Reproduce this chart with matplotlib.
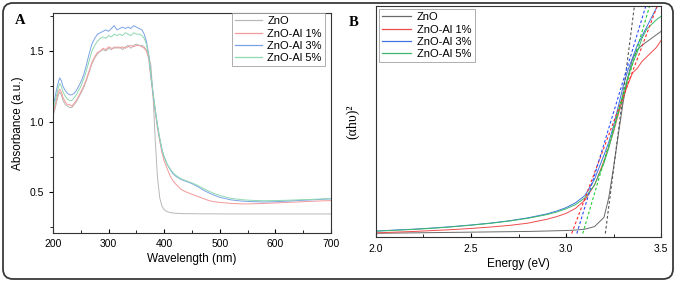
import numpy as np
import matplotlib
matplotlib.use("Agg")
import matplotlib.pyplot as plt
from matplotlib.patches import FancyBboxPatch
from matplotlib.ticker import MultipleLocator

plt.rcParams["font.family"] = ["Liberation Sans", "DejaVu Sans"]

# ------------------------------------------------
# Panel A: UV-vis absorbance
# ------------------------------------------------

wavelength = [200, 203, 206, 209, 212, 215, 218, 222, 226, 230, 234, 238, 242, 246,
              250, 255, 260, 265, 270, 275, 280, 285, 290, 295, 300, 305, 310, 315,
              320, 325, 330, 335, 340, 345, 350, 355, 360, 364, 368, 372, 376, 380,
              384, 388, 392, 396, 400, 405, 410, 415, 420, 430, 440, 450, 460, 470,
              480, 490, 500, 520, 540, 560, 580, 600, 620, 640, 660, 680, 700]

abs_zno = [1.04, 1.08, 1.13, 1.18, 1.21, 1.19, 1.15, 1.12, 1.11, 1.10, 1.10, 1.12, 1.14, 1.17,
           1.20, 1.24, 1.29, 1.35, 1.41, 1.45, 1.48, 1.50, 1.51, 1.50, 1.52, 1.51, 1.53, 1.52,
           1.53, 1.51, 1.53, 1.54, 1.52, 1.54, 1.55, 1.54, 1.54, 1.53, 1.51, 1.47, 1.40, 1.18,
           0.86, 0.60, 0.46, 0.40, 0.375, 0.362, 0.356, 0.352, 0.350, 0.348, 0.347, 0.347, 0.346, 0.346,
           0.346, 0.346, 0.345, 0.345, 0.345, 0.345, 0.345, 0.345, 0.345, 0.345, 0.345, 0.345, 0.345]

abs_al1 = [1.06, 1.10, 1.15, 1.20, 1.23, 1.21, 1.17, 1.14, 1.12, 1.12, 1.11, 1.13, 1.15, 1.18,
           1.21, 1.25, 1.30, 1.36, 1.42, 1.46, 1.49, 1.50, 1.52, 1.51, 1.53, 1.52, 1.52, 1.53,
           1.52, 1.53, 1.52, 1.53, 1.54, 1.53, 1.54, 1.54, 1.53, 1.52, 1.50, 1.45, 1.31, 1.18,
           1.06, 0.95, 0.86, 0.78, 0.72, 0.67, 0.62, 0.585, 0.56, 0.52, 0.50, 0.485, 0.47, 0.455,
           0.44, 0.432, 0.427, 0.42, 0.416, 0.417, 0.42, 0.423, 0.427, 0.43, 0.434, 0.437, 0.44]

abs_al3 = [1.11, 1.16, 1.22, 1.27, 1.31, 1.29, 1.25, 1.22, 1.20, 1.19, 1.19, 1.20, 1.22, 1.25,
           1.28, 1.33, 1.40, 1.48, 1.55, 1.59, 1.62, 1.63, 1.64, 1.65, 1.64, 1.66, 1.68, 1.65,
           1.66, 1.67, 1.66, 1.67, 1.66, 1.68, 1.67, 1.66, 1.65, 1.62, 1.57, 1.48, 1.33, 1.20,
           1.08, 0.97, 0.88, 0.80, 0.75, 0.70, 0.665, 0.635, 0.615, 0.59, 0.575, 0.56, 0.54, 0.515,
           0.495, 0.478, 0.463, 0.445, 0.436, 0.432, 0.43, 0.432, 0.436, 0.44, 0.444, 0.448, 0.452]

abs_al5 = [1.08, 1.13, 1.18, 1.23, 1.27, 1.25, 1.21, 1.18, 1.16, 1.15, 1.15, 1.17, 1.19, 1.22,
           1.25, 1.30, 1.36, 1.43, 1.50, 1.54, 1.57, 1.59, 1.60, 1.59, 1.61, 1.60, 1.62, 1.61,
           1.62, 1.61, 1.63, 1.62, 1.61, 1.63, 1.62, 1.62, 1.61, 1.59, 1.55, 1.47, 1.33, 1.20,
           1.08, 0.97, 0.88, 0.80, 0.75, 0.70, 0.668, 0.642, 0.622, 0.595, 0.58, 0.565, 0.548, 0.527,
           0.507, 0.49, 0.476, 0.456, 0.446, 0.441, 0.439, 0.44, 0.442, 0.445, 0.448, 0.451, 0.455]

# ------------------------------------------------
# Panel B: Tauc plot
# ------------------------------------------------

energy = [2.0, 2.1, 2.2, 2.3, 2.4, 2.5, 2.6, 2.7, 2.8, 2.9, 2.95, 3.0, 3.05, 3.1,
          3.15, 3.2, 3.225, 3.25, 3.275, 3.3, 3.325, 3.35, 3.375, 3.4, 3.425, 3.45, 3.475, 3.5]

tauc_zno = [0.016, 0.017, 0.018, 0.019, 0.020, 0.021, 0.022, 0.023, 0.024, 0.026, 0.027, 0.028, 0.030, 0.034,
            0.045, 0.085, 0.17, 0.30, 0.44, 0.58, 0.69, 0.77, 0.81, 0.83, 0.845, 0.86, 0.875, 0.89]
tauc_al1 = [0.018, 0.021, 0.024, 0.028, 0.032, 0.037, 0.043, 0.050, 0.060, 0.077, 0.088, 0.102, 0.124, 0.16,
            0.225, 0.33, 0.39, 0.455, 0.53, 0.60, 0.66, 0.71, 0.73, 0.76, 0.78, 0.80, 0.82, 0.85]
tauc_al3 = [0.026, 0.030, 0.034, 0.039, 0.045, 0.052, 0.060, 0.070, 0.083, 0.100, 0.112, 0.127, 0.148, 0.18,
            0.25, 0.355, 0.41, 0.48, 0.565, 0.65, 0.72, 0.775, 0.83, 0.87, 0.91, 0.95, 0.99, 1.03]
tauc_al5 = [0.025, 0.029, 0.033, 0.038, 0.044, 0.051, 0.059, 0.069, 0.081, 0.097, 0.108, 0.122, 0.140, 0.17,
            0.225, 0.32, 0.385, 0.46, 0.545, 0.62, 0.69, 0.75, 0.80, 0.86, 0.90, 0.92, 0.94, 0.955]

# band-gap extrapolation lines: energy at bottom and at top of the plot
tangent_lo = [3.207, 3.03, 3.057, 3.088]
tangent_hi = [3.36, 3.48, 3.42, 3.44]
tangent_y = [0.015, 1.0]

labels = ["ZnO", "ZnO-Al 1%", "ZnO-Al 3%", "ZnO-Al 5%"]
colors_a = ["#b8b8b8", "#f29a9a", "#7aa3e6", "#8fd8b0"]
colors_b = ["#6a6a6a", "#ee4b4b", "#3f74e0", "#3cb86a"]
colors_dash = ["#555555", "#ff2a2a", "#2a4cff", "#22cc33"]

fig = plt.figure(figsize=(6.76, 2.82), dpi=100)

border = FancyBboxPatch((0.03, 0.03), 6.70, 2.76, boxstyle="round,pad=0,rounding_size=0.1",
                        transform=fig.dpi_scale_trans, fill=False, edgecolor="#3a3a3a",
                        linewidth=1.3)
fig.patches.append(border)

# ---- panel A
ax1 = fig.add_axes([53 / 676, 1 - 233 / 282, 278 / 676, 220 / 282])
for series, lab, col in zip([abs_zno, abs_al1, abs_al3, abs_al5], labels, colors_a):
    ax1.plot(wavelength, series, color=col, lw=0.7, label=lab)

ax1.set_xlim(200, 700)
ax1.set_ylim(0.21, 1.77)
ax1.set_xticks([200, 300, 400, 500, 600, 700])
ax1.set_yticks([0.5, 1.0, 1.5])
ax1.xaxis.set_minor_locator(MultipleLocator(50))
ax1.yaxis.set_minor_locator(MultipleLocator(0.25))
ax1.tick_params(axis="x", which="both", direction="in", labelsize=7.5, pad=4)
ax1.tick_params(axis="x", which="major", length=3)
ax1.tick_params(axis="x", which="minor", length=2)
ax1.tick_params(axis="y", which="both", direction="out", labelsize=7.5)
ax1.tick_params(axis="y", which="major", length=3)
ax1.tick_params(axis="y", which="minor", length=2)
ax1.set_xlabel("Wavelength (nm)", fontsize=8.5, labelpad=3)
ax1.set_ylabel("Absorbance (a.u.)", fontsize=8.5, labelpad=4)
for s in ax1.spines.values():
    s.set_linewidth(0.8)
    s.set_color("#333333")

leg1 = ax1.legend(loc="upper right", bbox_to_anchor=(1 - 6 / 278, 1), borderaxespad=0,
                  fontsize=8, frameon=True, fancybox=False, handlelength=2.4,
                  handletextpad=0.5, labelspacing=0.2, borderpad=0.3)
leg1.get_frame().set_edgecolor("#999999")
leg1.get_frame().set_linewidth(0.7)
for h in leg1.get_lines():
    h.set_linewidth(0.9)

fig.text(20 / 676, 1 - 20 / 282, "A", fontsize=10.5, fontweight="bold",
         family="Liberation Serif", ha="center", va="center")

# ---- panel B
ax2 = fig.add_axes([376 / 676, 1 - 237 / 282, 285 / 676, 231 / 282])
for series, lab, col in zip([tauc_zno, tauc_al1, tauc_al3, tauc_al5], labels, colors_b):
    ax2.plot(energy, series, color=col, lw=0.7, label=lab)
for lo, hi, col in zip(tangent_lo, tangent_hi, colors_dash):
    ax2.plot([lo, hi], tangent_y, color=col, lw=0.8, linestyle=(0, (2.5, 2)))

ax2.set_xlim(2.0, 3.5)
ax2.set_ylim(0, 1)
ax2.set_xticks([2.0, 2.5, 3.0, 3.5])
ax2.xaxis.set_minor_locator(MultipleLocator(0.25))
ax2.set_yticks([])
ax2.tick_params(axis="x", which="both", direction="in", labelsize=7.5, pad=5)
ax2.tick_params(axis="x", which="major", length=3)
ax2.tick_params(axis="x", which="minor", length=2)
ax2.set_xlabel("Energy (eV)", fontsize=8.5, labelpad=3)
ax2.set_ylabel("(αhυ)²", fontsize=10, family="Liberation Serif", labelpad=12)
for s in ax2.spines.values():
    s.set_linewidth(0.8)
    s.set_color("#333333")

leg2 = ax2.legend(loc="upper left", bbox_to_anchor=(3 / 285, 1 - 3 / 231), borderaxespad=0,
                  fontsize=8, frameon=True, fancybox=False, handlelength=2.6,
                  handletextpad=0.5, labelspacing=0.2, borderpad=0.3)
leg2.get_frame().set_edgecolor("#999999")
leg2.get_frame().set_linewidth(0.7)
for h in leg2.get_lines():
    h.set_linewidth(0.9)

fig.text(354 / 676, 1 - 22 / 282, "B", fontsize=10.5, fontweight="bold",
         family="Liberation Serif", ha="center", va="center")

fig.savefig("out.png", dpi=100)
